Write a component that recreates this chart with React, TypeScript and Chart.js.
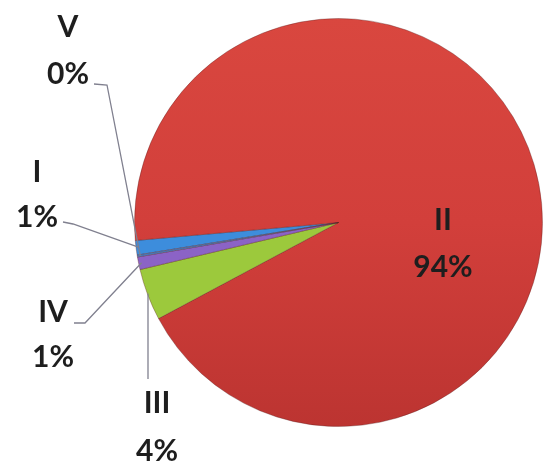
import React, { useEffect, useRef } from "react";
import { Chart, registerables } from "chart.js";

Chart.register(...registerables);

const categories = ["I", "II", "III", "IV", "V"];
const values = [1.15, 93.6, 4.1, 1.0, 0.15];
const sliceColors = ["#3d8ddc", "#d3403c", "#9cc93c", "#8b63c6", "#4a7fc0"];

// label layout: text centre x, baselines of the two lines, leader-line start/knee points
const labelLayout = [
  { x: 37, b1: 182, b2: 227, line: [[63, 222], [73, 224]], vertical: false },
  { x: 443, b1: 230, b2: 277, line: null, vertical: false },
  { x: 157, b1: 413, b2: 461, line: [[148, 379]], vertical: true },
  { x: 53, b1: 322, b2: 367, line: [[74, 323], [85, 323]], vertical: false },
  { x: 68, b1: 37, b2: 84, line: [[94, 84], [107, 85]], vertical: false },
];

const labelPlugin = {
  id: "pieLabels",
  afterDatasetsDraw(chart: any) {
    const ctx = chart.ctx;
    const meta = chart.getDatasetMeta(0);
    const data = chart.data.datasets[0].data as number[];
    const total = data.reduce((a, b) => a + b, 0);
    ctx.save();
    // leader lines
    ctx.strokeStyle = "#80808f";
    ctx.lineWidth = 1.3;
    labelLayout.forEach((lay, i) => {
      if (!lay.line) return;
      const arc = meta.data[i];
      const p = arc.getProps(["x", "y", "startAngle", "endAngle", "outerRadius"], true);
      const mid = (p.startAngle + p.endAngle) / 2;
      const r = p.outerRadius - 3;
      let ex = p.x + Math.cos(mid) * r;
      let ey = p.y + Math.sin(mid) * r;
      if (lay.vertical) {
        ex = lay.line[0][0];
      }
      ctx.beginPath();
      ctx.moveTo(lay.line[0][0], lay.line[0][1]);
      for (let k = 1; k < lay.line.length; k++) ctx.lineTo(lay.line[k][0], lay.line[k][1]);
      ctx.lineTo(ex, ey);
      ctx.stroke();
    });
    // texts
    ctx.fillStyle = "#1e1e1e";
    ctx.font = "bold 30px Lato";
    ctx.textAlign = "center";
    ctx.textBaseline = "alphabetic";
    labelLayout.forEach((lay, i) => {
      const pct = Math.round((data[i] / total) * 100) + "%";
      ctx.fillText(chart.data.labels[i], lay.x, lay.b1);
      ctx.fillText(pct, lay.x, lay.b2);
    });
    ctx.restore();
  },
};

export default function App() {
  const ref = useRef<HTMLCanvasElement>(null);
  useEffect(() => {
    document.body.style.margin = "0";
    const canvas = ref.current!;
    const chart = new Chart(canvas, {
      type: "pie",
      data: {
        labels: categories,
        datasets: [
          {
            data: values,
            backgroundColor: (c: any) => {
              const i = c.dataIndex;
              const base = sliceColors[i];
              const area = c.chart.chartArea;
              if (!area || i !== 1) return base;
              const g = c.chart.ctx.createLinearGradient(0, area.top, 0, area.bottom);
              g.addColorStop(0, "#d9473f");
              g.addColorStop(0.5, "#d23f3b");
              g.addColorStop(1, "#bc3431");
              return g;
            },
            borderColor: "rgba(90,30,30,0.35)",
            borderWidth: 1,
          },
        ],
      },
      options: {
        animation: false,
        responsive: false,
        rotation: 260.8,
        layout: { padding: { left: 134, right: 0, top: 18, bottom: 34 } },
        plugins: {
          legend: { display: false },
          tooltip: { enabled: false },
        },
      },
      plugins: [labelPlugin],
    });
    return () => chart.destroy();
  }, []);
  return (
    <div style={{ width: 543, height: 461, background: "#fff" }}>
      <canvas ref={ref} width={543} height={461} style={{ display: "block" }} />
    </div>
  );
}
